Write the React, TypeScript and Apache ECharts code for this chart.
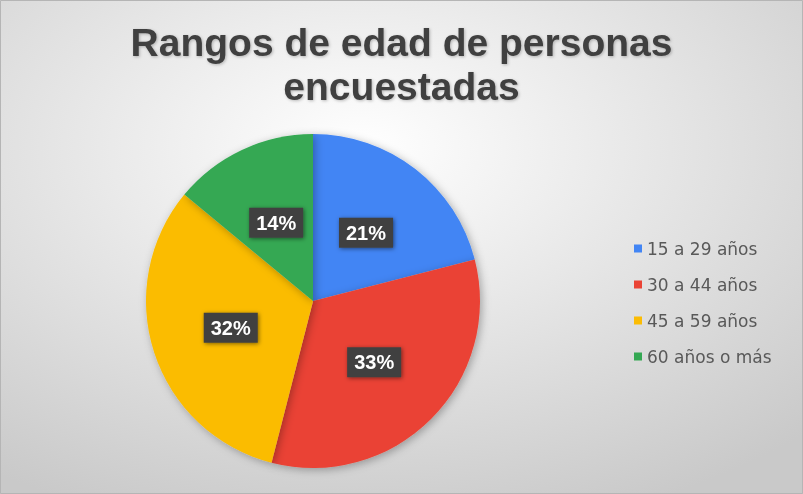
import React, { useEffect, useRef } from "react";
import * as echarts from "echarts";

const categories = ["15 a 29 años", "30 a 44 años", "45 a 59 años", "60 años o más"];
const values = [21, 33, 32, 14];
const colors = ["#4285F4", "#EA4335", "#FBBC04", "#34A853"];
const titleText = "Rangos de edad de personas\nencuestadas";

export default function App() {
  const ref = useRef<HTMLDivElement>(null);
  useEffect(() => {
    const chart = echarts.init(ref.current!, null, { renderer: "svg" });
    chart.setOption({
      animation: false,
      backgroundColor: {
        type: "radial",
        x: 0.45,
        y: 0.3,
        r: 0.8,
        colorStops: [
          { offset: 0, color: "#ffffff" },
          { offset: 1, color: "#c9c9c9" },
        ],
      },
      title: {
        text: titleText,
        left: "center",
        top: 15,
        textStyle: {
          fontFamily: "Liberation Sans, Arial, sans-serif",
          fontSize: 39,
          fontWeight: "bold",
          color: "#404040",
          lineHeight: 44,
          textShadowColor: "rgba(0,0,0,0.25)",
          textShadowBlur: 3,
          textShadowOffsetX: 1,
          textShadowOffsetY: 1,
        },
      },
      legend: {
        orient: "vertical",
        left: 629,
        top: 235,
        icon: "rect",
        itemWidth: 8,
        itemHeight: 8,
        itemGap: 19,
        textStyle: {
          fontFamily: "DejaVu Sans, sans-serif",
          fontSize: 17,
          color: "#595959",
        },
        data: categories,
      },
      graphic: [
        {
          type: "rect",
          shape: { x: 0.5, y: 0.5, width: 802, height: 493 },
          style: { fill: "none", stroke: "#b5b5b5", lineWidth: 1 },
          silent: true,
        },
      ],
      series: [
        {
          type: "pie",
          center: [313, 301],
          radius: [0, 167],
          startAngle: 90,
          clockwise: true,
          color: colors,
          itemStyle: {
            shadowBlur: 8,
            shadowColor: "rgba(0,0,0,0.3)",
            shadowOffsetX: 2,
            shadowOffsetY: 2,
          },
          label: {
            show: true,
            position: "inside",
            formatter: "{c}%",
            fontFamily: "Liberation Sans, Arial, sans-serif",
            fontSize: 20,
            fontWeight: "bold",
            color: "#ffffff",
            backgroundColor: "#404040",
            padding: [6, 7, 4, 7],
            shadowColor: "rgba(0,0,0,0.5)",
            shadowBlur: 4,
            shadowOffsetX: 1,
            shadowOffsetY: 1,
          },
          labelLine: { show: false },
          emphasis: { disabled: true },
          data: categories.map((c, i) => ({ name: c, value: values[i] })),
        },
      ],
    });
    return () => chart.dispose();
  }, []);
  return (
    <div
      ref={ref}
      style={{ position: "fixed", left: 0, top: 0, width: 803, height: 494 }}
    />
  );
}
